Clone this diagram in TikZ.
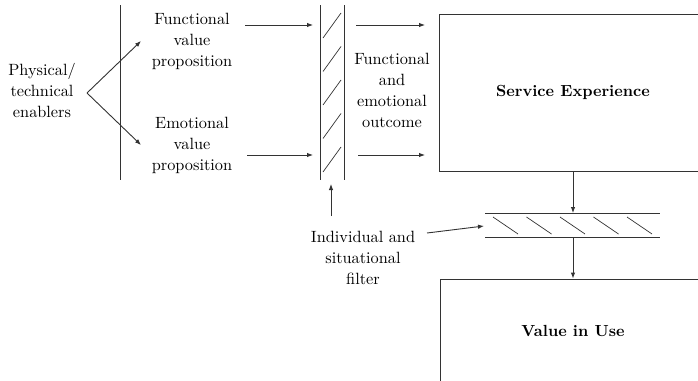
\documentclass[tikz,border=0pt]{standalone}
\usepackage{graphicx}
\usetikzlibrary{arrows.meta}
% labels are set in the 10pt design size and enlarged
\newcommand\lbl[1]{\scalebox{1.63}{\fontsize{10}{12.9}\selectfont\begin{tabular}{@{}c@{}}#1\end{tabular}}}
\newcommand\boxlbl[1]{\scalebox{1.61}{\fontsize{10}{12}\selectfont\bfseries #1}}
\begin{document}
\begin{tikzpicture}[x=1pt,y=-1pt,
  line/.style={draw=black!80,line width=0.9pt},
  arr/.style={line,-{Latex[length=6pt,width=4.5pt]}},
  txt/.style={align=center,inner sep=0pt},
  bigbox/.style={line,rectangle,inner sep=0pt}]
\useasboundingbox (0,0) rectangle (698,380);
\clip (0,0) rectangle (698,380);

% text labels
\node[txt] (enab) at (42,92) {\lbl{Physical/\\technical\\enablers}};
\node[txt] (fvp) at (192,41) {\lbl{Functional\\value\\proposition}};
\node[txt] (evp) at (192,145) {\lbl{Emotional\\value\\proposition}};
\node[txt] (out) at (392,92) {\lbl{Functional\\and\\emotional\\outcome}};
\node[txt] (ind) at (363,259) {\lbl{Individual and\\situational\\filter}};

% main boxes (their right and lower parts run past the page edge)
\node[bigbox,minimum width=268pt,minimum height=157pt] (se) at (573,92.5) {\boxlbl{Service Experience}};
\node[bigbox,minimum width=266pt,minimum height=104pt] (viu) at (573,331) {\boxlbl{Value in Use}};

% left divider
\coordinate (d1) at (120,5); \coordinate (d2) at (120,180);
\draw[line] (d1) -- (d2);

% fork from the enablers
\coordinate (fork) at (87,93);
\coordinate (fup) at (141,41);
\coordinate (fdn) at (141,145);
\draw[arr] (fork) -- (fup);
\draw[arr] (fork) -- (fdn);

% vertical filter bar
\coordinate (vL1) at (320,5); \coordinate (vL2) at (320,180);
\coordinate (vR1) at (344,5); \coordinate (vR2) at (344,180);
\draw[line] (vL1) -- (vL2);
\draw[line] (vR1) -- (vR2);
\foreach \i in {0,...,4}{
  \coordinate (vh\i a) at (323,38+33.5*\i);
  \coordinate (vh\i b) at (341,13+33.5*\i);
  \draw[line,line width=0.7pt] (vh\i a) -- (vh\i b);
}

% arrows into and out of the vertical filter
\coordinate (fa1) at (245,25); \coordinate (fa2) at (313,25);
\coordinate (ea1) at (247,155); \coordinate (ea2) at (313,155);
\draw[arr] (fa1) -- (fa2);
\draw[arr] (ea1) -- (ea2);
\coordinate (oa1) at (356,25); \coordinate (oa2) at (425,25);
\coordinate (ob1) at (358,155); \coordinate (ob2) at (425,155);
\draw[arr] (oa1) -- (oa2);
\draw[arr] (ob1) -- (ob2);
\coordinate (ua1) at (331,216); \coordinate (ua2) at (331,184);
\draw[arr] (ua1) -- (ua2);

% horizontal filter bar
\coordinate (hT1) at (485,213); \coordinate (hT2) at (660,213);
\coordinate (hB1) at (485,237); \coordinate (hB2) at (660,237);
\draw[line] (hT1) -- (hT2);
\draw[line] (hB1) -- (hB2);
\foreach \i in {0,...,4}{
  \coordinate (hh\i a) at (493+33.5*\i,217);
  \coordinate (hh\i b) at (518+33.5*\i,234);
  \draw[line,line width=0.7pt] (hh\i a) -- (hh\i b);
}

% flow through the horizontal filter
\coordinate (top) at (573,213);
\coordinate (bot) at (573,237);
\draw[arr] (se.south) -- (top);
\draw[arr] (bot) -- (viu.north);

% pointer from the filter label
\coordinate (ip1) at (427,233); \coordinate (ip2) at (484,226);
\draw[arr] (ip1) -- (ip2);
\end{tikzpicture}
\end{document}
